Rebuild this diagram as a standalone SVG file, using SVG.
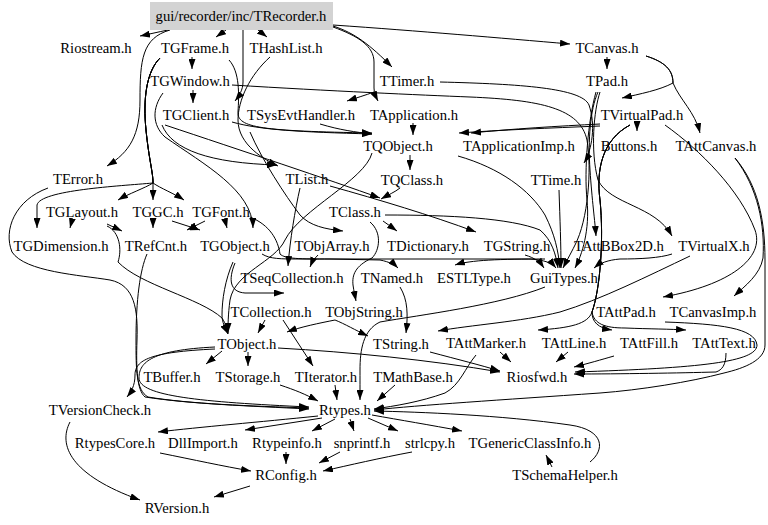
<svg xmlns="http://www.w3.org/2000/svg" width="768" height="525" viewBox="0 0 768 525">
<defs>
<marker id="ah" viewBox="0 0 10 7" refX="10" refY="3.5" markerWidth="10" markerHeight="7" markerUnits="userSpaceOnUse" orient="auto">
<path d="M0,0 L10,3.5 L0,7 z" fill="#000"/>
</marker>
<style>
text{font-family:"Liberation Serif","Times New Roman",serif;font-size:14.7px;fill:#000;text-anchor:middle}
#edges path{fill:none;stroke:#000;stroke-width:1;marker-end:url(#ah)}
</style>
</defs>
<rect width="768" height="525" fill="#fff"/>
<g id="edges">
<path d="M168,30 C158,32 150,34 140,36"/>
<path d="M226,30 L216,37"/>
<path d="M258,30 L267,37"/>
<path d="M333,26 C355,33 370,45 392,67"/>
<path d="M333,25 C420,31 500,38 570,44"/>
<path d="M170,30 C142,38 140,60 140,100 C140,135 130,152 107,166"/>
<path d="M243,30 L243,82 C243,90 239,96 235,101"/>
<path d="M333,27 C358,36 374,46 374,62 L374,88 C374,94 376,97 378,101"/>
<path d="M374,92 C366,95 356,98 347,101"/>
<path d="M192,57 L192,69"/>
<path d="M193,90 L193,103"/>
<path d="M160,58 C146,72 143,100 146,130 C149,160 153,172 153,183 C145,188 128,194 118,200"/>
<path d="M160,58 C146,72 143,100 146,130 C149,160 153,172 153,183 L153,200"/>
<path d="M160,58 C146,72 143,100 146,130 C149,160 153,172 153,183 C160,188 175,194 184,200"/>
<path d="M160,58 C146,72 143,100 146,130 C149,160 153,172 153,183 C120,186 40,190 37,205 L37,228"/>
<path d="M163,93 C152,108 152,125 165,137 C205,165 252,190 253,228"/>
<path d="M229,60 C240,72 239,95 238,112 C237,128 262,131 372,133"/>
<path d="M232,122 C260,130 300,132 372,134"/>
<path d="M320,124 C340,130 355,132 372,134"/>
<path d="M413,123 L413,135"/>
<path d="M270,57 C250,75 238,100 238,120 C238,145 265,160 278,166"/>
<path d="M162,125 C172,150 210,163 277,165"/>
<path d="M165,125 C240,150 330,180 380,198"/>
<path d="M600,126 C550,128 500,130 459,133"/>
<path d="M600,124 C560,126 510,129 471,133"/>
<path d="M440,82 C520,84 582,88 589,105 C596,125 592,150 584,163"/>
<path d="M232,85 C330,91 420,95 470,97 C540,100 580,108 587,140 C592,170 588,220 575,245 C570,255 566,262 563,268"/>
<path d="M607,57 L607,69"/>
<path d="M646,56 C665,62 673,70 673,83 C660,90 640,94 622,98"/>
<path d="M646,56 C665,62 673,70 673,83 C680,100 695,112 700,133"/>
<path d="M637,123 L637,131"/>
<path d="M598,92 C590,110 588,140 590,170 C592,200 595,222 596,236"/>
<path d="M600,92 C594,110 590,150 598,180 C610,205 655,205 672,236"/>
<path d="M596,92 C588,120 584,170 587,200 C590,230 582,255 575,268"/>
<path d="M410,155 L410,170"/>
<path d="M400,188 C395,192 388,195 381,199"/>
<path d="M330,186 C380,200 430,215 476,232"/>
<path d="M383,221 L397,231"/>
<path d="M250,132 C262,160 285,195 300,215 C310,226 325,229 343,231"/>
<path d="M300,188 C295,210 290,240 288,266"/>
<path d="M372,153 C365,180 300,210 285,240 C275,262 235,272 230,300 C228,315 228,325 228,333"/>
<path d="M72,220 L70,228"/>
<path d="M107,224 L122,231"/>
<path d="M153,220 L153,228"/>
<path d="M205,221 L187,230"/>
<path d="M172,221 L200,230"/>
<path d="M225,220 L227,228"/>
<path d="M250,217 C270,225 278,240 280,254 C285,259 300,259 330,259 L380,260 C390,262 395,265 398,268"/>
<path d="M262,254 C270,259 280,259 300,259 L530,259 C545,260 552,263 556,268"/>
<path d="M672,254 C660,258 640,259 620,259 C608,260 600,263 594,268"/>
<path d="M525,255 C535,258 540,262 544,268"/>
<path d="M458,156 C500,168 530,190 545,215 C555,235 558,250 560,268"/>
<path d="M385,215 C450,215 510,218 540,230 C552,240 556,255 558,268"/>
<path d="M559,190 C560,220 561,245 561,268"/>
<path d="M318,255 C314,259 312,262 310,267"/>
<path d="M545,259 C500,259 470,260 455,265"/>
<path d="M370,222 C382,232 380,250 372,258 C355,266 352,275 353,285 C354,292 355,296 356,301"/>
<path d="M235,263 C228,280 230,292 245,293 L284,293"/>
<path d="M265,320 L258,333"/>
<path d="M233,262 C225,280 222,300 222,315 C222,322 225,328 228,334"/>
<path d="M335,320 C320,323 300,327 287,332"/>
<path d="M335,320 C345,324 355,330 368,336"/>
<path d="M400,287 C408,300 408,315 406,333"/>
<path d="M690,256 C650,275 600,300 560,312 C520,322 470,325 438,331"/>
<path d="M545,287 C500,305 420,315 380,322 C363,330 360,350 360,370 C360,385 360,393 360,400"/>
<path d="M283,320 L313,366"/>
<path d="M248,352 L248,366"/>
<path d="M222,351 L206,364"/>
<path d="M278,348 C350,352 430,360 500,372"/>
<path d="M430,352 C460,360 480,365 500,371"/>
<path d="M500,352 L511,362"/>
<path d="M568,352 L556,362"/>
<path d="M614,356 C600,360 590,363 574,367"/>
<path d="M726,353 C726,365 722,370 716,372 C680,373 620,374 574,374"/>
<path d="M630,125 C602,140 596,170 600,200 C604,240 600,290 592,312 C588,324 570,328 538,330"/>
<path d="M630,125 C602,140 596,170 600,200 C604,240 600,290 592,312 C592,322 598,328 612,330"/>
<path d="M630,125 C602,140 596,170 600,200 C604,240 600,290 592,312 C594,324 605,328 625,328 C650,329 670,329 686,330"/>
<path d="M665,125 C700,150 740,190 755,230 C765,258 730,285 663,297"/>
<path d="M735,158 C758,188 765,225 763,258 C760,275 745,286 734,296"/>
<path d="M735,158 C758,185 765,220 765,260 L765,345 C765,360 745,368 724,373 C690,382 640,390 600,393 C500,400 420,405 374,410"/>
<path d="M665,322 C720,324 755,328 757,345 C757,362 700,368 575,372"/>
<path d="M476,355 C465,368 460,385 445,393 C420,402 395,406 374,409"/>
<path d="M590,462 C605,450 605,430 570,425 C500,415 420,412 374,411"/>
<path d="M280,385 C295,390 305,394 318,401"/>
<path d="M335,385 L337,400"/>
<path d="M395,385 L377,401"/>
<path d="M215,349 C150,352 135,360 135,375 C135,386 131,392 127,397"/>
<path d="M215,347 C152,350 139,362 139,378 C139,396 200,402 309,407"/>
<path d="M48,188 C15,200 3,230 12,252 C25,272 80,275 110,280 C135,285 138,310 137,340 C136,370 137,390 145,397 C190,404 250,406 309,409"/>
<path d="M107,226 C120,232 122,250 118,262 C140,285 200,298 222,318 C226,324 227,329 228,334"/>
<path d="M147,254 C140,270 136,300 136,340 C136,370 136,390 148,397 C190,404 250,406 309,408"/>
<path d="M318,416 C260,422 200,427 158,432"/>
<path d="M322,418 L245,430"/>
<path d="M335,419 L312,431"/>
<path d="M350,419 L354,431"/>
<path d="M368,418 L398,431"/>
<path d="M372,415 C400,420 430,425 462,431"/>
<path d="M160,453 C195,460 222,466 251,471"/>
<path d="M286,452 L286,464"/>
<path d="M340,452 L319,463"/>
<path d="M412,452 C380,458 350,465 323,471"/>
<path d="M250,486 L214,497"/>
<path d="M70,422 C58,445 70,475 140,500"/>
<path d="M552,467 L546,455"/>
</g>
<g id="TRecorder"><rect x="150" y="2" width="183" height="28" fill="#d3d3d3"/><text x="241" y="21">gui/recorder/inc/TRecorder.h</text></g>
<g id="Riostream"><text x="96" y="53">Riostream.h</text></g>
<g id="TGFrame"><text x="195" y="53">TGFrame.h</text></g>
<g id="THashList"><text x="286" y="53">THashList.h</text></g>
<g id="TCanvas"><text x="607" y="53">TCanvas.h</text></g>
<g id="TGWindow"><text x="190" y="86">TGWindow.h</text></g>
<g id="TTimer"><text x="407" y="86">TTimer.h</text></g>
<g id="TPad"><text x="607" y="86">TPad.h</text></g>
<g id="TGClient"><text x="196" y="120">TGClient.h</text></g>
<g id="TSysEvtHandler"><text x="301" y="120">TSysEvtHandler.h</text></g>
<g id="TApplication"><text x="414" y="120">TApplication.h</text></g>
<g id="TVirtualPad"><text x="642" y="120">TVirtualPad.h</text></g>
<g id="TQObject"><text x="398" y="151">TQObject.h</text></g>
<g id="TApplicationImp"><text x="519" y="151">TApplicationImp.h</text></g>
<g id="Buttons"><text x="629" y="151">Buttons.h</text></g>
<g id="TAttCanvas"><text x="716" y="151">TAttCanvas.h</text></g>
<g id="TError"><text x="78" y="184">TError.h</text></g>
<g id="TList"><text x="307" y="184">TList.h</text></g>
<g id="TQClass"><text x="412" y="185">TQClass.h</text></g>
<g id="TTime"><text x="556" y="185">TTime.h</text></g>
<g id="TGLayout"><text x="82" y="217">TGLayout.h</text></g>
<g id="TGGC"><text x="158" y="217">TGGC.h</text></g>
<g id="TGFont"><text x="221" y="217">TGFont.h</text></g>
<g id="TClass"><text x="355" y="217">TClass.h</text></g>
<g id="TGDimension"><text x="61" y="251">TGDimension.h</text></g>
<g id="TRefCnt"><text x="156" y="251">TRefCnt.h</text></g>
<g id="TGObject"><text x="235" y="251">TGObject.h</text></g>
<g id="TObjArray"><text x="332" y="251">TObjArray.h</text></g>
<g id="TDictionary"><text x="428" y="251">TDictionary.h</text></g>
<g id="TGString"><text x="517" y="251">TGString.h</text></g>
<g id="TAttBBox2D"><text x="619" y="251">TAttBBox2D.h</text></g>
<g id="TVirtualX"><text x="714" y="251">TVirtualX.h</text></g>
<g id="TSeqCollection"><text x="292" y="283">TSeqCollection.h</text></g>
<g id="TNamed"><text x="392" y="283">TNamed.h</text></g>
<g id="ESTLType"><text x="474" y="283">ESTLType.h</text></g>
<g id="GuiTypes"><text x="564" y="283">GuiTypes.h</text></g>
<g id="TCollection"><text x="271" y="317">TCollection.h</text></g>
<g id="TObjString"><text x="364" y="317">TObjString.h</text></g>
<g id="TAttPad"><text x="626" y="317">TAttPad.h</text></g>
<g id="TCanvasImp"><text x="713" y="317">TCanvasImp.h</text></g>
<g id="TObject"><text x="247" y="349">TObject.h</text></g>
<g id="TString"><text x="401" y="349">TString.h</text></g>
<g id="TAttMarker"><text x="486" y="348">TAttMarker.h</text></g>
<g id="TAttLine"><text x="574" y="348">TAttLine.h</text></g>
<g id="TAttFill"><text x="649" y="348">TAttFill.h</text></g>
<g id="TAttText"><text x="724" y="348">TAttText.h</text></g>
<g id="TBuffer"><text x="172" y="382">TBuffer.h</text></g>
<g id="TStorage"><text x="248" y="382">TStorage.h</text></g>
<g id="TIterator"><text x="326" y="382">TIterator.h</text></g>
<g id="TMathBase"><text x="413" y="382">TMathBase.h</text></g>
<g id="Riosfwd"><text x="537" y="382">Riosfwd.h</text></g>
<g id="TVersionCheck"><text x="100" y="415">TVersionCheck.h</text></g>
<g id="Rtypes"><text x="345" y="415">Rtypes.h</text></g>
<g id="RtypesCore"><text x="115" y="448">RtypesCore.h</text></g>
<g id="DllImport"><text x="203" y="448">DllImport.h</text></g>
<g id="Rtypeinfo"><text x="287" y="448">Rtypeinfo.h</text></g>
<g id="snprintf"><text x="362" y="448">snprintf.h</text></g>
<g id="strlcpy"><text x="430" y="448">strlcpy.h</text></g>
<g id="TGenericClassInfo"><text x="530" y="448">TGenericClassInfo.h</text></g>
<g id="RConfig"><text x="286" y="480">RConfig.h</text></g>
<g id="TSchemaHelper"><text x="565" y="480">TSchemaHelper.h</text></g>
<g id="RVersion"><text x="177" y="513">RVersion.h</text></g>
</svg>
